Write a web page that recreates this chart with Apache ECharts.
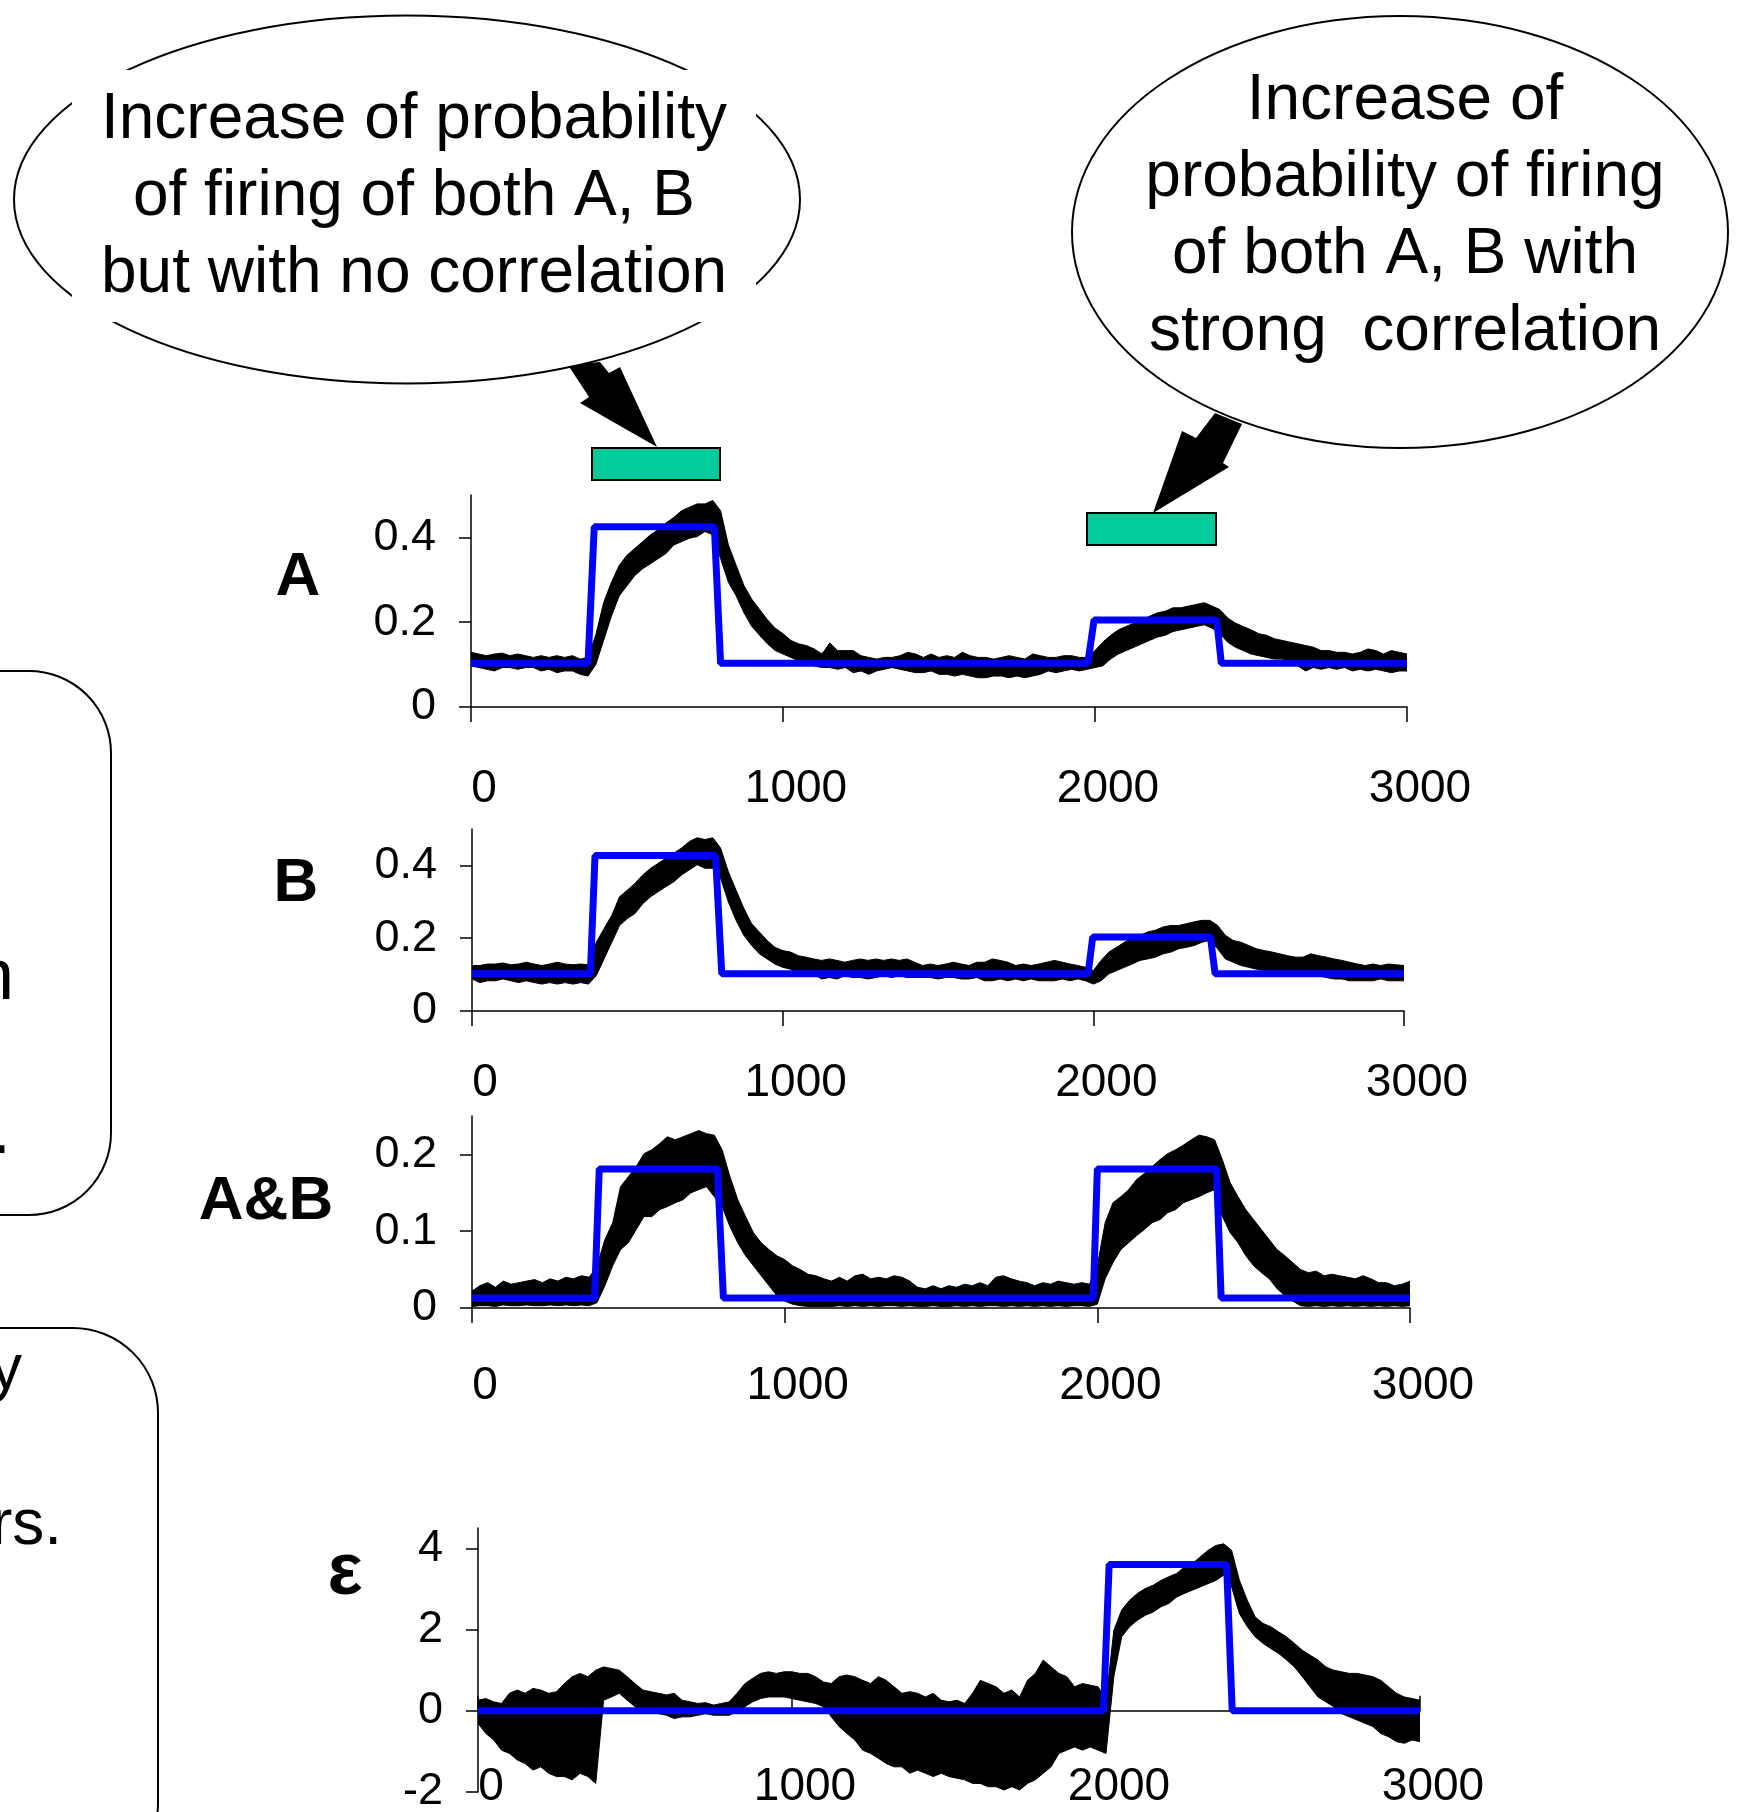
<!DOCTYPE html>
<html>
<head>
<meta charset="utf-8">
<script src="https://cdn.jsdelivr.net/npm/echarts@6.0.0/dist/echarts.min.js"></script>
<style>
html,body{margin:0;padding:0;background:#fff;}
#chart{width:1755px;height:1812px;}
</style>
</head>
<body>
<div id="chart"></div>
<script>
// ---------- data ----------
const time = [0,25,50,75,100,125,150,175,200,225,250,275,300,325,350,375,400,425,450,475,500,525,550,575,600,625,650,675,700,725,750,775,800,825,850,875,900,925,950,975,1000,1025,1050,1075,1100,1125,1150,1175,1200,1225,1250,1275,1300,1325,1350,1375,1400,1425,1450,1475,1500,1525,1550,1575,1600,1625,1650,1675,1700,1725,1750,1775,1800,1825,1850,1875,1900,1925,1950,1975,2000,2025,2050,2075,2100,2125,2150,2175,2200,2225,2250,2275,2300,2325,2350,2375,2400,2425,2450,2475,2500,2525,2550,2575,2600,2625,2650,2675,2700,2725,2750,2775,2800,2825,2850,2875,2900,2925,2950,2975,3000];

const aLo = [0.097,0.093,0.089,0.085,0.093,0.093,0.089,0.093,0.093,0.085,
 0.089,0.081,0.085,0.085,0.077,0.073,0.100,0.157,0.214,0.262,
 0.286,0.310,0.326,0.338,0.350,0.362,0.382,0.390,0.398,0.402,
 0.414,0.406,0.350,0.294,0.262,0.222,0.190,0.169,0.149,0.133,
 0.125,0.117,0.109,0.105,0.097,0.093,0.093,0.089,0.093,0.081,
 0.085,0.077,0.085,0.089,0.093,0.089,0.085,0.081,0.081,0.085,
 0.077,0.077,0.073,0.077,0.073,0.069,0.069,0.073,0.073,0.069,
 0.073,0.069,0.073,0.077,0.085,0.081,0.085,0.089,0.085,0.089,
 0.093,0.097,0.113,0.125,0.133,0.141,0.149,0.157,0.165,0.169,
 0.178,0.182,0.186,0.190,0.194,0.186,0.173,0.153,0.141,0.133,
 0.125,0.121,0.117,0.113,0.113,0.109,0.097,0.085,0.093,0.089,
 0.093,0.089,0.093,0.085,0.089,0.085,0.089,0.085,0.081,0.085,
 0.085];
const aHi = [0.129,0.125,0.121,0.125,0.127,0.121,0.125,0.121,0.117,0.121,
 0.117,0.121,0.117,0.121,0.113,0.117,0.170,0.246,0.294,0.334,
 0.358,0.374,0.390,0.406,0.418,0.434,0.447,0.463,0.471,0.479,
 0.479,0.487,0.463,0.382,0.334,0.286,0.254,0.230,0.206,0.186,
 0.173,0.157,0.149,0.145,0.137,0.125,0.151,0.133,0.133,0.133,
 0.121,0.117,0.113,0.117,0.117,0.121,0.129,0.125,0.117,0.125,
 0.117,0.121,0.117,0.129,0.121,0.117,0.117,0.113,0.117,0.121,
 0.117,0.113,0.125,0.121,0.117,0.117,0.121,0.121,0.117,0.117,
 0.133,0.153,0.169,0.182,0.190,0.198,0.206,0.214,0.222,0.226,
 0.234,0.234,0.238,0.242,0.246,0.238,0.230,0.210,0.198,0.190,
 0.182,0.173,0.169,0.161,0.157,0.153,0.149,0.145,0.141,0.133,
 0.133,0.129,0.129,0.125,0.129,0.137,0.133,0.125,0.133,0.129,
 0.125];

const bLo = [0.088,0.078,0.083,0.083,0.088,0.083,0.078,0.083,0.078,0.074,
 0.078,0.074,0.078,0.074,0.078,0.074,0.097,0.143,0.189,0.235,
 0.254,0.268,0.295,0.314,0.328,0.342,0.355,0.374,0.388,0.402,
 0.392,0.392,0.365,0.300,0.249,0.208,0.180,0.157,0.143,0.129,
 0.120,0.115,0.106,0.106,0.102,0.088,0.092,0.088,0.097,0.092,
 0.092,0.088,0.092,0.097,0.092,0.097,0.092,0.092,0.092,0.092,
 0.088,0.092,0.092,0.088,0.088,0.092,0.083,0.083,0.088,0.083,
 0.088,0.083,0.088,0.083,0.083,0.083,0.088,0.083,0.088,0.083,
 0.074,0.083,0.102,0.111,0.120,0.129,0.139,0.143,0.148,0.157,
 0.162,0.171,0.175,0.180,0.189,0.194,0.171,0.143,0.134,0.125,
 0.120,0.115,0.111,0.106,0.106,0.106,0.102,0.097,0.102,0.097,
 0.092,0.088,0.088,0.083,0.083,0.083,0.083,0.088,0.083,0.083,
 0.083];
const bHi = [0.125,0.125,0.129,0.129,0.132,0.127,0.129,0.134,0.129,0.125,
 0.129,0.134,0.129,0.127,0.129,0.127,0.189,0.226,0.263,0.314,
 0.332,0.351,0.374,0.392,0.406,0.420,0.434,0.448,0.466,0.476,
 0.471,0.476,0.448,0.383,0.332,0.282,0.240,0.217,0.194,0.175,
 0.166,0.162,0.152,0.148,0.143,0.139,0.143,0.139,0.134,0.139,
 0.143,0.139,0.143,0.139,0.143,0.139,0.143,0.134,0.125,0.129,
 0.125,0.129,0.134,0.129,0.125,0.134,0.134,0.143,0.139,0.134,
 0.125,0.129,0.125,0.129,0.134,0.139,0.134,0.129,0.125,0.120,
 0.111,0.139,0.162,0.175,0.189,0.199,0.208,0.217,0.222,0.231,
 0.235,0.235,0.240,0.245,0.249,0.249,0.235,0.208,0.194,0.189,
 0.180,0.171,0.166,0.162,0.157,0.152,0.148,0.148,0.157,0.152,
 0.148,0.143,0.139,0.134,0.129,0.125,0.129,0.125,0.129,0.127,
 0.125];

const abLo = [0.002,0.003,0.003,0.002,0.004,0.003,0.003,0.004,0.003,0.003,
 0.004,0.003,0.004,0.003,0.004,0.003,0.007,0.029,0.055,0.076,
 0.085,0.102,0.119,0.119,0.128,0.132,0.137,0.141,0.150,0.154,
 0.158,0.145,0.132,0.106,0.085,0.068,0.055,0.042,0.029,0.016,
 0.009,0.005,0.003,0.002,0.002,0.002,0.002,0.003,0.002,0.003,
 0.002,0.003,0.002,0.003,0.003,0.002,0.003,0.002,0.002,0.003,
 0.002,0.002,0.003,0.002,0.003,0.002,0.003,0.003,0.002,0.003,
 0.002,0.003,0.002,0.003,0.002,0.003,0.002,0.003,0.003,0.002,
 0.005,0.038,0.059,0.076,0.085,0.094,0.102,0.111,0.115,0.124,
 0.128,0.137,0.141,0.145,0.150,0.154,0.119,0.098,0.085,0.068,
 0.055,0.046,0.038,0.025,0.016,0.009,0.003,0.002,0.003,0.002,
 0.003,0.002,0.003,0.002,0.003,0.002,0.003,0.002,0.003,0.002,
 0.003];
const abHi = [0.022,0.029,0.033,0.027,0.035,0.031,0.033,0.035,0.037,0.033,
 0.038,0.035,0.040,0.038,0.042,0.040,0.055,0.089,0.111,0.158,
 0.171,0.184,0.201,0.206,0.214,0.223,0.219,0.223,0.227,0.231,
 0.227,0.225,0.206,0.171,0.141,0.119,0.098,0.085,0.076,0.068,
 0.063,0.055,0.050,0.044,0.042,0.038,0.035,0.040,0.035,0.042,
 0.044,0.038,0.040,0.038,0.042,0.040,0.035,0.027,0.025,0.029,
 0.025,0.029,0.027,0.031,0.029,0.033,0.029,0.040,0.042,0.038,
 0.035,0.033,0.029,0.033,0.031,0.035,0.033,0.031,0.033,0.031,
 0.055,0.111,0.137,0.145,0.154,0.167,0.175,0.184,0.193,0.201,
 0.206,0.212,0.219,0.225,0.223,0.219,0.193,0.163,0.145,0.128,
 0.115,0.102,0.089,0.076,0.068,0.059,0.050,0.046,0.048,0.042,
 0.044,0.042,0.040,0.038,0.042,0.038,0.033,0.033,0.029,0.031,
 0.035];

const eLo = [-0.31,-0.56,-0.72,-0.97,-1.05,-1.21,-1.30,-1.46,-1.38,-1.54,
 -1.62,-1.62,-1.70,-1.54,-1.62,-1.79,0.26,0.34,0.43,0.26,
 0.10,0.02,-0.02,-0.07,-0.11,-0.19,-0.15,-0.15,-0.11,-0.07,
 -0.11,-0.11,-0.11,-0.02,0.10,0.22,0.30,0.34,0.34,0.34,
 0.30,0.26,0.22,0.18,0.10,-0.15,-0.39,-0.56,-0.72,-0.97,
 -1.05,-1.17,-1.30,-1.38,-1.38,-1.54,-1.46,-1.54,-1.62,-1.54,
 -1.62,-1.66,-1.70,-1.79,-1.79,-1.87,-1.87,-1.95,-1.87,-1.95,
 -1.79,-1.70,-1.54,-1.38,-1.05,-0.97,-0.89,-0.97,-0.89,-0.97,
 -1.05,0.84,1.82,2.07,2.23,2.35,2.43,2.56,2.64,2.80,
 2.89,2.97,3.05,3.13,3.21,3.34,3.05,2.39,2.07,1.82,
 1.66,1.53,1.41,1.25,1.08,0.84,0.59,0.34,0.22,0.10,
 -0.07,-0.15,-0.23,-0.31,-0.39,-0.56,-0.64,-0.76,-0.80,-0.72,
 -0.76];
const eHi = [0.26,0.30,0.22,0.18,0.43,0.51,0.43,0.55,0.51,0.43,
 0.47,0.67,0.84,0.92,0.84,1.00,1.08,1.04,1.00,0.84,
 0.67,0.51,0.47,0.43,0.39,0.43,0.26,0.22,0.18,0.20,
 0.14,0.18,0.22,0.43,0.67,0.80,0.92,0.96,0.92,0.96,
 0.96,0.92,0.92,0.84,0.71,0.67,0.84,0.88,0.84,0.75,
 0.67,0.84,0.75,0.59,0.43,0.47,0.43,0.34,0.43,0.26,
 0.22,0.26,0.18,0.43,0.75,0.67,0.59,0.43,0.51,0.34,
 0.75,0.92,1.25,1.08,0.92,0.84,0.59,0.67,0.63,0.59,
 0.26,1.98,2.48,2.72,2.89,3.01,3.09,3.21,3.30,3.38,
 3.54,3.62,3.79,3.95,4.07,4.11,3.95,3.21,2.72,2.31,
 2.15,2.07,1.94,1.82,1.66,1.49,1.37,1.25,1.08,1.00,
 0.96,0.92,0.92,0.88,0.84,0.75,0.59,0.43,0.34,0.30,
 0.26];

// model (blue) step curves
const aModelT = [0,375,395,780,800,1977,1997,2390,2405,3000];
const aModelV = [0.103,0.103,0.425,0.425,0.103,0.103,0.205,0.205,0.103,0.103];
const bModelT = [0,381,396,784,804,1983,1998,2377,2392,3000];
const bModelV = [0.102,0.102,0.427,0.427,0.102,0.102,0.203,0.203,0.102,0.102];
const abModelT = [0,392,407,785,804,1987,2000,2381,2396,3000];
const abModelV = [0.013,0.013,0.181,0.181,0.013,0.013,0.181,0.181,0.013,0.013];
const eModelT = [0,1992,2010,2384,2402,3000];
const eModelV = [0,0,3.6,3.6,0,0];

// tick values
const xTicks = [0,1000,2000,3000];
const yTicksA = [0,0.2,0.4];
const yTicksB = [0,0.2,0.4];
const yTicksAB = [0,0.1,0.2];
const yTicksE = [-2,0,2,4];

// labels
const panelLabels = ['A','B','A&B','\u03B5'];
const bubble1 = ['Increase of probability','of firing of both A, B','but with no correlation'];
const bubble2 = ['Increase of','probability of firing','of both A, B with','strong  correlation'];

// ---------- chart ----------
const FONT = '"Liberation Sans", Arial, Helvetica, sans-serif';
const chart = echarts.init(document.getElementById('chart'), null, {renderer:'canvas', width:1755, height:1812});

const axisLineStyle = {color:'#000', width:1.5};
const plain = v => String(v);

function xAxisCfg(g, margin, opts) {
  const o = {
    type:'value', gridIndex:g, min:0, max:3000, interval:1000,
    axisLine:{show:true, onZero:false, lineStyle:axisLineStyle},
    axisTick:{show:true, length:15, lineStyle:axisLineStyle},
    axisLabel:{show:true, margin:margin, fontSize:46, color:'#000', fontFamily:FONT, formatter:plain,
               verticalAlign:'middle', padding:[0,0,0,26], customValues:xTicks},
    splitLine:{show:false}
  };
  return Object.assign(o, opts || {});
}
function yAxisCfg(g, min, max, ticks) {
  return {
    type:'value', gridIndex:g, min:min, max:max,
    axisLine:{show:true, onZero:false, lineStyle:axisLineStyle},
    axisTick:{show:true, length:12, customValues:ticks, lineStyle:axisLineStyle},
    axisLabel:{show:true, margin:35, fontSize:45, color:'#000', fontFamily:FONT, formatter:plain, customValues:ticks},
    splitLine:{show:false}
  };
}
function band(xi, yi, lo, hi) {
  return {
    type:'custom', xAxisIndex:xi, yAxisIndex:yi, silent:true, z:2, clip:true,
    data: time.map((t,i)=>[t, lo[i], hi[i]]),
    encode:{x:0, y:[1,2]},
    renderItem:function(params, api){
      if (params.dataIndex !== 0) return null;
      const pts = [];
      for (let i=0;i<time.length;i++) pts.push(api.coord([time[i], hi[i]]));
      for (let i=time.length-1;i>=0;i--) pts.push(api.coord([time[i], lo[i]]));
      return {type:'polygon', shape:{points:pts}, style:{fill:'#000', stroke:'#000', lineWidth:1}};
    }
  };
}
function model(xi, yi, ts, vs) {
  return {
    type:'line', xAxisIndex:xi, yAxisIndex:yi, z:3, silent:true,
    showSymbol:false, symbol:'none',
    data: ts.map((t,i)=>[t, vs[i]]),
    lineStyle:{color:'#0000FF', width:7}
  };
}
function txt(s, x, y, size, weight, align) {
  return {type:'text', z:10, style:{text:s, x:x, y:y, fill:'#000', fontSize:size, fontWeight:weight||'normal',
    fontFamily:FONT, align:align||'center', verticalAlign:'middle', textAlign:align||'center', textVerticalAlign:'middle'}};
}

const graphics = [
  // cut-off rounded boxes on the left
  {type:'rect', z:1, shape:{x:-300, y:671, width:411, height:544, r:82}, style:{fill:'#fff', stroke:'#000', lineWidth:2}},
  {type:'rect', z:1, shape:{x:-300, y:1328, width:458, height:560, r:85}, style:{fill:'#fff', stroke:'#000', lineWidth:2}},
  txt('n', 14, 979, 72, 'normal', 'right'),
  txt('.', 11, 1133, 72, 'normal', 'right'),
  txt('y', 22, 1371, 64, 'normal', 'right'),
  txt('rs.', 62, 1526, 64, 'normal', 'right'),
  // arrows
  {type:'polygon', z:4, shape:{points:[[568,365],[600,362],[609,373],[620,367],[657,447],[580,403],[589,397]]}, style:{fill:'#000'}},
  {type:'polygon', z:4, shape:{points:[[1215,413],[1242,424],[1223,463],[1229,467],[1153,513],[1182,431],[1196,438]]}, style:{fill:'#000'}},
  // bubble 1
  {type:'ellipse', z:5, shape:{cx:407, cy:199.5, rx:393, ry:184}, style:{fill:'#fff', stroke:'#000', lineWidth:2}},
  {type:'rect', z:6, shape:{x:72, y:70, width:684, height:252}, style:{fill:'#fff'}},
  // bubble 2
  {type:'ellipse', z:5, shape:{cx:1400, cy:232, rx:328, ry:216}, style:{fill:'#fff', stroke:'#000', lineWidth:2}},
  // green bars
  {type:'rect', z:5, shape:{x:592, y:448, width:128, height:32}, style:{fill:'#00CC99', stroke:'#000', lineWidth:2}},
  {type:'rect', z:5, shape:{x:1087, y:513, width:129, height:32}, style:{fill:'#00CC99', stroke:'#000', lineWidth:2}},
  // panel labels
  txt(panelLabels[0], 298, 578, 62, 'bold'),
  txt(panelLabels[1], 296, 884, 62, 'bold'),
  txt(panelLabels[2], 266, 1202, 62, 'bold'),
  txt(panelLabels[3], 345, 1574, 74, 'bold')
];
const b1y = [120, 197.5, 274.5];
bubble1.forEach((s,i)=>graphics.push(txt(s, 414, b1y[i], 64)));
const b2y = [101, 178, 255, 332];
bubble2.forEach((s,i)=>graphics.push(txt(s, 1405, b2y[i], 64)));

const option = {
  animation:false,
  backgroundColor:'#fff',
  grid:[
    {left:471, top:495, width:936, height:212, outerBoundsMode:'none'},
    {left:472, top:829, width:932, height:182, outerBoundsMode:'none'},
    {left:472, top:1116, width:938, height:192, outerBoundsMode:'none'},
    {left:478, top:1528, width:942, height:264, outerBoundsMode:'none'}
  ],
  xAxis:[
    xAxisCfg(0, 82),
    xAxisCfg(1, 72),
    xAxisCfg(2, 78),
    xAxisCfg(3, -5, {axisLine:{show:false, onZero:false}, axisTick:{show:false}}),
    xAxisCfg(3, 0, {axisLine:{show:true, onZero:true, lineStyle:axisLineStyle}, axisLabel:{show:false}})
  ],
  yAxis:[
    yAxisCfg(0, 0, 0.5, yTicksA),
    yAxisCfg(1, 0, 0.5, yTicksB),
    yAxisCfg(2, 0, 0.25, yTicksAB),
    yAxisCfg(3, -2, 4.5, yTicksE)
  ],
  series:[
    band(0,0,aLo,aHi), model(0,0,aModelT,aModelV),
    band(1,1,bLo,bHi), model(1,1,bModelT,bModelV),
    band(2,2,abLo,abHi), model(2,2,abModelT,abModelV),
    band(3,3,eLo,eHi), model(3,3,eModelT,eModelV)
  ],
  graphic:{elements:graphics}
};
chart.setOption(option);
</script>
</body>
</html>
